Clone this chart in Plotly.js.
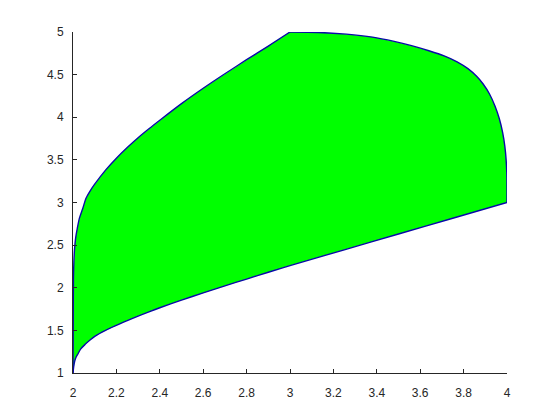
<!DOCTYPE html>
<html>
<head>
<meta charset="utf-8">
<script src="https://cdn.plot.ly/plotly-3.0.1.min.js"></script>
<style>
  html, body { margin: 0; padding: 0; background: #fff; }
  #plot { width: 560px; height: 420px; }
</style>
</head>
<body>
<div id="plot"></div>
<script>
// lower edge, (2,1) -> (4,3)
var lowerX = [2.0, 2.003, 2.008, 2.015, 2.022, 2.035, 2.056, 2.08, 2.102, 2.15, 2.194, 2.25, 2.3, 2.35, 2.4, 2.5, 2.6, 2.7, 2.8, 2.9, 3.0, 3.25, 3.5, 3.75, 4.0];
var lowerY = [1.0, 1.07, 1.14, 1.19, 1.22, 1.28, 1.336, 1.39, 1.433, 1.50, 1.553, 1.615, 1.668, 1.718, 1.765, 1.855, 1.94, 2.022, 2.102, 2.182, 2.26, 2.445, 2.63, 2.815, 3.0];

// right edge, (4,3) up to (3,5)
var rightX = [4.0, 4.0, 3.999, 3.996, 3.99, 3.98, 3.965, 3.945, 3.92, 3.89, 3.86, 3.82, 3.77, 3.71, 3.64, 3.56, 3.48, 3.38, 3.26, 3.13, 3.0];
var rightY = [3.0, 3.2, 3.35, 3.5, 3.66, 3.82, 3.98, 4.13, 4.27, 4.39, 4.48, 4.57, 4.65, 4.72, 4.78, 4.84, 4.89, 4.94, 4.975, 4.995, 5.0];

// left edge, (3,5) down to (2,1)
var leftX = [3.0, 2.9, 2.8, 2.7, 2.6, 2.5, 2.4, 2.35, 2.3, 2.25, 2.2, 2.15, 2.1, 2.08, 2.06, 2.045, 2.03, 2.02, 2.012, 2.007, 2.004, 2.002, 2.001, 2.0];
var leftY = [5.0, 4.835, 4.675, 4.51, 4.34, 4.16, 3.965, 3.865, 3.76, 3.645, 3.52, 3.38, 3.215, 3.14, 3.05, 2.93, 2.82, 2.70, 2.58, 2.45, 2.3, 2.1, 1.6, 1.0];

var xTicks = [2, 2.2, 2.4, 2.6, 2.8, 3, 3.2, 3.4, 3.6, 3.8, 4];
var xLabels = ["2", "2.2", "2.4", "2.6", "2.8", "3", "3.2", "3.4", "3.6", "3.8", "4"];
var yTicks = [1, 1.5, 2, 2.5, 3, 3.5, 4, 4.5, 5];
var yLabels = ["1", "1.5", "2", "2.5", "3", "3.5", "4", "4.5", "5"];

var xRange = [2, 4];
var yRange = [1, 5];
var edgeColor = "#0808a8";
var axisColor = "#262626";

// the filled patch, no outline (edges drawn smoothed on top)
var patch = {
  x: lowerX.concat(rightX.slice(1), leftX.slice(1)),
  y: lowerY.concat(rightY.slice(1), leftY.slice(1)),
  type: "scatter",
  mode: "lines",
  fill: "toself",
  fillcolor: "#00ff00",
  line: { width: 0, color: "#00ff00" },
  hoverinfo: "skip"
};

// edges live on the overlay axes so those axes (with the inward ticks) get drawn
function edge(xs, ys) {
  return {
    x: xs, y: ys,
    xaxis: "x2", yaxis: "y2",
    type: "scatter",
    mode: "lines",
    line: { color: edgeColor, width: 1.4, shape: "spline", smoothing: 0.8 },
    hoverinfo: "skip"
  };
}

var data = [patch, edge(lowerX, lowerY), edge(rightX, rightY), edge(leftX, leftY)];

var axisFont = { family: "Liberation Sans, Arial, sans-serif", size: 12, color: axisColor };

var plain = { showgrid: false, zeroline: false };

var layout = {
  width: 560,
  height: 420,
  margin: { l: 73, r: 53, t: 31.5, b: 46.5 },
  paper_bgcolor: "#ffffff",
  plot_bgcolor: "rgba(0,0,0,0)",
  showlegend: false,
  // main axes carry the labels, pushed off by invisible outside ticks
  xaxis: Object.assign({
    range: xRange, tickvals: xTicks, ticktext: xLabels,
    ticks: "outside", ticklen: 9, tickcolor: "rgba(0,0,0,0)",
    showline: true, linecolor: axisColor, linewidth: 1,
    tickfont: axisFont
  }, plain),
  yaxis: Object.assign({
    range: yRange, tickvals: yTicks, ticktext: yLabels,
    ticks: "outside", ticklen: 6, tickcolor: "rgba(0,0,0,0)",
    showline: true, linecolor: axisColor, linewidth: 1,
    tickfont: axisFont
  }, plain),
  // overlay axes draw the short inward ticks like MATLAB
  xaxis2: Object.assign({
    overlaying: "x", anchor: "y2", side: "bottom",
    range: xRange, tickvals: xTicks,
    ticks: "inside", ticklen: 4, tickwidth: 1, tickcolor: axisColor,
    showticklabels: false, showline: false
  }, plain),
  yaxis2: Object.assign({
    overlaying: "y", anchor: "x2", side: "left",
    range: yRange, tickvals: yTicks,
    ticks: "inside", ticklen: 4, tickwidth: 1, tickcolor: axisColor,
    showticklabels: false, showline: false
  }, plain)
};

Plotly.newPlot("plot", data, layout, { staticPlot: true, displayModeBar: false });
</script>
</body>
</html>
